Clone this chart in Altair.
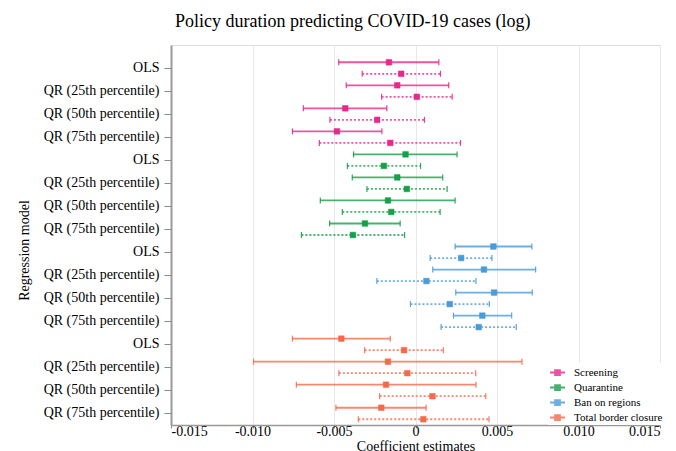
import altair as alt
import pandas as pd

policies = ["Screening", "Quarantine", "Ban on regions", "Total border closure"]
models = ["OLS", "QR (25th percentile)", "QR (50th percentile)", "QR (75th percentile)"]
colors = ["#E7298A", "#16A04A", "#4A9BD9", "#F46A4A"]

# Solid-line estimates (policy x model order)
solid_est = [-0.00163, -0.00112, -0.00431, -0.00482,
             -0.00061, -0.00112, -0.00169, -0.00310,
             0.00478, 0.00420, 0.00482, 0.00410,
             -0.00455, -0.00169, -0.00181, -0.00210]
solid_lo = [-0.00471, -0.00425, -0.00688, -0.00755,
            -0.00380, -0.00388, -0.00584, -0.00527,
            0.00243, 0.00106, 0.00247, 0.00233,
            -0.00755, -0.00994, -0.00731, -0.00488]
solid_hi = [0.00143, 0.00204, -0.00176, -0.00206,
            0.00255, 0.00167, 0.00243, -0.00094,
            0.00714, 0.00737, 0.00716, 0.00590,
            -0.00155, 0.00653, 0.00371, 0.00065]

# Dotted-line estimates
dotted_est = [-0.00088, 0.00008, -0.00235, -0.00155,
              -0.00194, -0.00053, -0.00149, -0.00384,
              0.00280, 0.00067, 0.00210, 0.00388,
              -0.00070, -0.00050, 0.00104, 0.00048]
dotted_lo = [-0.00327, -0.00208, -0.00525, -0.00590,
             -0.00418, -0.00298, -0.00449, -0.00700,
             0.00090, -0.00237, -0.00031, 0.00157,
             -0.00312, -0.00470, -0.00220, -0.00351]
dotted_hi = [0.00153, 0.00225, 0.00055, 0.00276,
             0.00031, 0.00194, 0.00151, -0.00067,
             0.00469, 0.00371, 0.00453, 0.00618,
             0.00171, 0.00369, 0.00431, 0.00451]

x_ticks = [-0.015, -0.010, -0.005, 0, 0.005, 0.010, 0.015]

rows = []
keys = []
for i, p in enumerate(policies):
    for j, m in enumerate(models):
        k = i * 4 + j
        key = f"{p}|{m}"
        keys.append(key)
        rows.append(dict(policy=p, model=m, key=key, spec="A",
                         est=solid_est[k], lo=solid_lo[k], hi=solid_hi[k]))
        rows.append(dict(policy=p, model=m, key=key, spec="B",
                         est=dotted_est[k], lo=dotted_lo[k], hi=dotted_hi[k]))
df = pd.DataFrame(rows)

FONT = "Liberation Serif"
color_scale = alt.Scale(domain=policies, range=colors)
xscale = alt.Scale(domain=[-0.015, 0.015], nice=False, zero=False)

y_enc = alt.Y(
    "key:N", sort=keys,
    scale=alt.Scale(paddingInner=0, paddingOuter=0.25, align=1),
    axis=alt.Axis(
        labelExpr="split(datum.value, '|')[1]",
        title="Regression model", titlePadding=12, titleY=205,
        labelPadding=5, tickSize=7, domainWidth=2, grid=False,
    ),
)
yoff = alt.YOffset("spec:N", sort=["A", "B"],
                   scale=alt.Scale(paddingInner=0, paddingOuter=0))

x_axis = alt.Axis(
    values=x_ticks,
    labelExpr="datum.value == 0 ? '0' : replace(format(datum.value, '.3f'), '\u2212', '-')",
    title="Coefficient estimates", titleBaseline="alphabetic", titleY=25,
    labelBaseline="alphabetic", labelPadding=7,
    tickSize=3, domainWidth=1.5,
    grid=True, gridColor="#e8e8e8", gridWidth=1,
)

legend_path = "M-1,0H1M-0.33,-0.33H0.33V0.33H-0.33Z"
leg = alt.Legend(
    title=None, orient="none", legendX=377, legendY=318,
    symbolType=legend_path, symbolSize=225, symbolStrokeWidth=1.8,
    labelFont=FONT, labelFontSize=11, labelColor="#000", labelOffset=8,
    rowPadding=0, fillColor="white", padding=1,
)

base = alt.Chart(df).encode(y=y_enc, yOffset=yoff)

dash = alt.StrokeDash("spec:N", scale=alt.Scale(domain=["A", "B"], range=[[1, 0], [2, 2]]), legend=None)

rules = base.mark_rule(strokeWidth=1.8, opacity=0.8).encode(
    x=alt.X("lo:Q", scale=xscale, axis=x_axis),
    x2="hi:Q",
    color=alt.Color("policy:N", scale=color_scale, legend=leg, sort=policies),
    strokeDash=dash,
)

caps = base.transform_fold(["lo", "hi"], as_=["end", "xv"]).mark_tick(
    thickness=1.2, size=6, orient="vertical", opacity=0.9
).encode(
    x=alt.X("xv:Q", scale=xscale, axis=x_axis),
    color=alt.Color("policy:N", scale=color_scale, legend=leg, sort=policies),
)

points = base.mark_square(size=32, opacity=1, filled=True, strokeWidth=0.5).encode(
    x=alt.X("est:Q", scale=xscale, axis=x_axis),
    fill=alt.Fill("policy:N", scale=color_scale, legend=leg, sort=policies),
    stroke=alt.Stroke("policy:N", scale=color_scale, legend=leg, sort=policies),
)

chart = alt.layer(rules, caps, points).properties(
    width=489, height=380,
    title=alt.TitleParams(
        "Policy duration predicting COVID-19 cases (log)",
        font=FONT, fontSize=18, fontWeight="normal", color="#000",
        anchor="start", frame="group", dx=4, offset=14,
    ),
    autosize=alt.AutoSizeParams(type="none"),
    padding={"left": 171, "top": 45, "right": 16, "bottom": 26},
).configure_view(stroke=None).configure(background="white").configure_axis(
    labelFont=FONT, labelFontSize=14, labelColor="#000",
    titleFont=FONT, titleFontSize=14, titleFontWeight="normal", titleColor="#000",
    tickColor="#888", domainColor="#999",
).configure_legend(labelFont=FONT, labelFontSize=11, labelColor="#000")

chart.save("out.html", embed_options={"renderer": "svg", "actions": False})
